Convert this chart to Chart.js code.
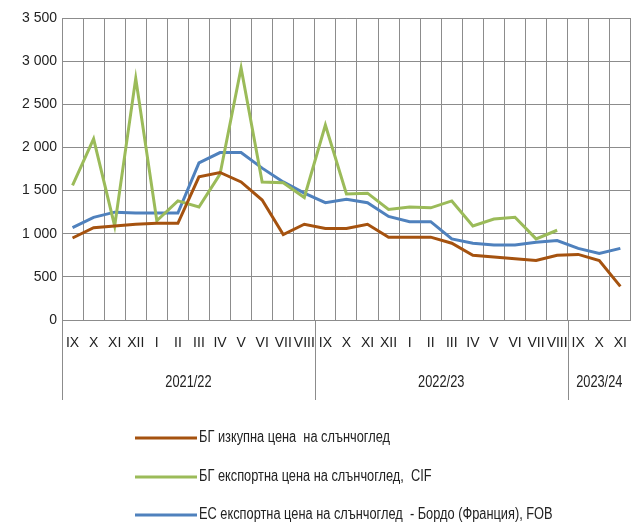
<!DOCTYPE html>
<html>
<head>
<meta charset="utf-8">
<script src="https://cdn.jsdelivr.net/npm/chart.js@4.4.1/dist/chart.umd.min.js"></script>
<style>
  html, body { margin: 0; padding: 0; background: #fff; overflow: hidden; }
  #wrap { width: 632px; height: 526px; overflow: hidden; }
</style>
</head>
<body>
<div id="wrap"><canvas id="chart" width="642" height="526"></canvas></div>
<script>
const months = [
    'IX', 'X', 'XI', 'XII', 'I', 'II', 'III', 'IV', 'V', 'VI', 'VII', 'VIII',
    'IX', 'X', 'XI', 'XII', 'I', 'II', 'III', 'IV', 'V', 'VI', 'VII', 'VIII',
    'IX', 'X', 'XI'
];
const seasons = ['2021/22', '2022/23', '2023/24'];
const seasonLengths = [12, 12, 3];

const bgPurchase = [
    950, 1070, 1090, 1110, 1120, 1120, 1660, 1710, 1600, 1390, 990, 1110,
    1060, 1060, 1110, 960, 960, 960, 890, 750, 730, 710, 690, 750,
    760, 690, 390
];
const bgExportCif = [
    1560, 2100, 1090, 2800, 1150, 1380, 1310, 1690, 2920, 1600, 1590, 1420,
    2260, 1460, 1470, 1280, 1310, 1300, 1380, 1090, 1170, 1190, 940, 1040,
    null, null, null
];
const euExportFob = [
    1070, 1190, 1250, 1240, 1240, 1240, 1820, 1940, 1940, 1760, 1600, 1470,
    1360, 1400, 1360, 1200, 1140, 1140, 940, 890, 870, 870, 900, 920,
    830, 770, 830
];
const seriesNames = [
    'БГ изкупна цена  на слънчоглед',
    'БГ експортна цена на слънчоглед,  CIF',
    'ЕС експортна цена на слънчоглед  - Бордо (Франция), FOB'
];

const FONT = '"Liberation Sans", Arial, sans-serif';
const GRID = '#8c8c8c';
const TEXT = '#222';
const NARROW = 0.8; // the original uses a condensed face

// draw text squeezed horizontally, anchored at x
function narrowText(ctx, text, x, y, align) {
    ctx.save();
    ctx.translate(x, y);
    ctx.scale(NARROW, 1);
    ctx.textAlign = align;
    ctx.fillText(text, 0, 0);
    ctx.restore();
}

// season labels under the month row + custom vertical legend
const groupPlugin = {
    id: 'groups',
    afterDraw(chart) {
        const { ctx, chartArea, scales: { x } } = chart;
        const half = (x.getPixelForValue(1) - x.getPixelForValue(0)) / 2;
        ctx.save();
        ctx.strokeStyle = GRID;
        ctx.lineWidth = 1;
        ctx.fillStyle = TEXT;
        ctx.font = '16px ' + FONT;
        ctx.textBaseline = 'middle';
        let start = 0;
        seasons.forEach((name, i) => {
            const left = x.getPixelForValue(start) - half;
            const right = x.getPixelForValue(start + seasonLengths[i] - 1) + half;
            const lx = Math.round(left) + 0.5;
            ctx.beginPath();
            ctx.moveTo(lx, chartArea.bottom);
            ctx.lineTo(lx, chartArea.bottom + 80);
            ctx.stroke();
            narrowText(ctx, name, (left + right) / 2, chartArea.bottom + 63, 'center');
            start += seasonLengths[i];
        });

        const rows = [438, 477, 515];
        chart.data.datasets.forEach((ds, i) => {
            ctx.strokeStyle = ds.borderColor;
            ctx.lineWidth = 3;
            ctx.beginPath();
            ctx.moveTo(135, rows[i]);
            ctx.lineTo(197, rows[i]);
            ctx.stroke();
            narrowText(ctx, ds.label, 199, rows[i], 'left');
        });
        ctx.restore();
    }
};

new Chart(document.getElementById('chart'), {
    type: 'line',
    data: {
        labels: months,
        datasets: [
            { label: seriesNames[0], data: bgPurchase, borderColor: '#a5520f' },
            { label: seriesNames[1], data: bgExportCif, borderColor: '#9bbb59' },
            { label: seriesNames[2], data: euExportFob, borderColor: '#4f81bd' }
        ].map(d => ({ ...d, borderWidth: 3, pointRadius: 0, tension: 0, fill: false }))
    },
    options: {
        responsive: false,
        animation: false,
        layout: { padding: { top: 18, right: 2, left: 0, bottom: 0 } },
        plugins: { legend: { display: false }, tooltip: { enabled: false } },
        scales: {
            x: {
                offset: true,
                grid: { color: GRID, drawTicks: false, offset: true },
                border: { color: GRID },
                ticks: {
                    color: TEXT, padding: 15, maxRotation: 0, autoSkip: false,
                    font: { family: FONT, size: 14 }
                },
                afterFit: s => { s.height = 206; }
            },
            y: {
                min: 0,
                max: 3500,
                ticks: {
                    stepSize: 500, color: TEXT, padding: 5,
                    font: { family: FONT, size: 14 },
                    callback: v => String(v).replace(/\B(?=(\d{3})+(?!\d))/g, ' ')
                },
                grid: { color: GRID, drawTicks: false },
                border: { color: GRID },
                afterFit: s => { s.width = 62; }
            }
        }
    },
    plugins: [groupPlugin]
});
</script>
</body>
</html>
